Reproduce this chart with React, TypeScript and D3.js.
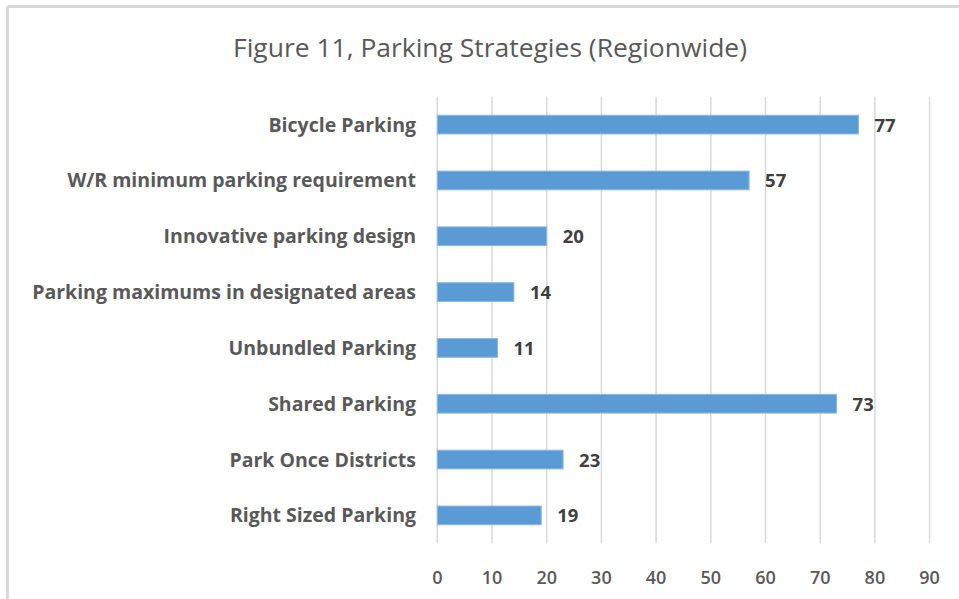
import React from "react";
import * as d3 from "d3";

const categories = [
  "Bicycle Parking",
  "W/R minimum parking requirement",
  "Innovative parking design",
  "Parking maximums in designated areas",
  "Unbundled Parking",
  "Shared Parking",
  "Park Once Districts",
  "Right Sized Parking",
];
const values = [77, 57, 20, 14, 11, 73, 23, 19];
const xTicks = [0, 10, 20, 30, 40, 50, 60, 70, 80, 90];
const title = "Figure 11, Parking Strategies (Regionwide)";

const W = 959;
const H = 599;
const left = 437.3;
const top = 96.7;
const bottom = 543.3;

export default function App() {
  const x = d3.scaleLinear().domain([0, 100]).range([left, left + 547]);
  const y = d3
    .scaleBand<string>()
    .domain(categories)
    .range([top, bottom])
    .paddingInner(0.665)
    .paddingOuter(0.3325);
  const font = "'Open Sans', sans-serif";
  const grey = "#595959";
  return (
    <svg
      width={W}
      height={H}
      style={{ position: "absolute", left: 0, top: 0, background: "#fff" }}
      fontFamily={font}
    >
      <rect x={0} y={0} width={W} height={H} fill="#fff" />
      <line x1={7.5} x2={W} y1={6.5} y2={6.5} stroke="#d9d9d9" strokeWidth={3} />
      <line x1={7.5} x2={7.5} y1={6} y2={H} stroke="#d9d9d9" strokeWidth={3} />
      <text
        x={490}
        y={57}
        textAnchor="middle"
        fontSize={26}
        fill={grey}
        textLength={514}
        lengthAdjust="spacingAndGlyphs"
      >
        {title}
      </text>
      {xTicks.map((t) => (
        <g key={t}>
          <line
            x1={x(t)}
            x2={x(t)}
            y1={top}
            y2={bottom}
            stroke="#d9d9d9"
            strokeWidth={1.5}
          />
          <text
            x={x(t)}
            y={584}
            textAnchor="middle"
            fontSize={18}
            fontWeight={600}
            fill={grey}
          >
            {t}
          </text>
        </g>
      ))}
      {categories.map((c, i) => (
        <g key={c}>
          <rect
            x={x(0)}
            y={y(c)!}
            width={x(values[i]) - x(0)}
            height={y.bandwidth()}
            fill="#5B9BD5"
            stroke="#8DB8E3"
            strokeWidth={1}
          />
          <text
            x={416}
            y={y(c)! + y.bandwidth() / 2}
            dy="0.36em"
            textAnchor="end"
            fontSize={19.5}
            fontWeight="bold"
            fill={grey}
          >
            {c}
          </text>
          <text
            x={x(values[i]) + 16}
            y={y(c)! + y.bandwidth() / 2}
            dy="0.38em"
            fontSize={18.5}
            fontWeight="bold"
            fill="#404040"
          >
            {values[i]}
          </text>
        </g>
      ))}
    </svg>
  );
}
